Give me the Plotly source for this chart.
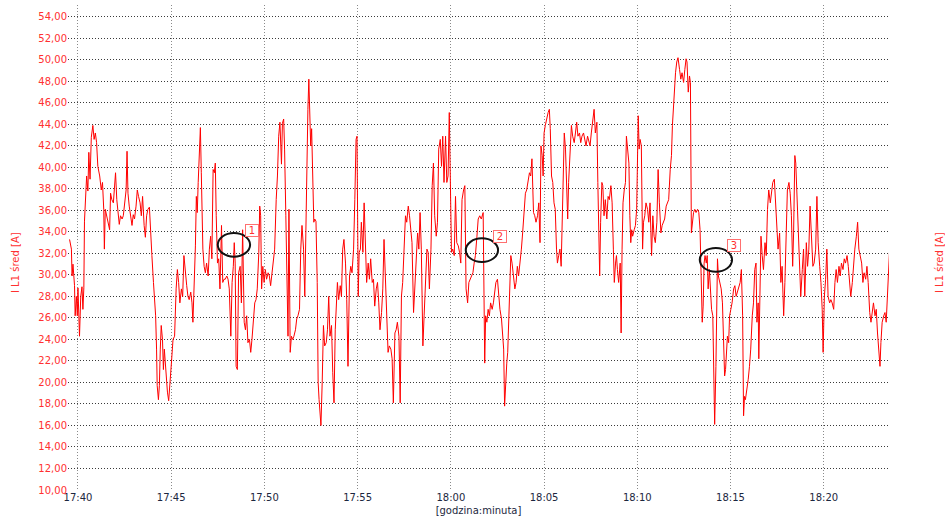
import pandas as pd
import plotly.graph_objects as go

# Start of the recording window
BASE = pd.Timestamp("2000-01-01 17:40:00")

# Sample times (seconds after 17:40:00)
t_offset_s = [
    -27, -21, -19, -16, -11, -9, -5, -2, 0, 3,
    5, 9, 13, 16, 19, 21, 25, 28, 32, 35,
    39, 43, 48, 52, 56, 60, 64, 70, 75, 79,
    83, 85, 88, 92, 97, 102, 105, 109, 114, 118,
    121, 125, 129, 133, 137, 142, 146, 150, 155, 158,
    161, 165, 170, 174, 178, 182, 187, 191, 195, 200,
    204, 208, 213, 217, 221, 225, 230, 234, 238, 243,
    247, 250, 253, 255, 259, 262, 265, 268, 272, 275,
    278, 281, 284, 288, 292, 296, 301, 306, 311, 316,
    320, 324, 328, 333, 337, 341, 346, 350, 354, 358,
    363, 367, 370, 374, 378, 381, 384, 387, 391, 394,
    397, 399, 402, 406, 410, 414, 419, 423, 427, 431,
    435, 439, 442, 445, 449, 453, 457, 462, 466, 470,
    474, 479, 483, 487, 492, 496, 500, 503, 506, 509,
    513, 517, 522, 526, 530, 535, 539, 543, 547, 552,
    556, 560, 565, 569, 573, 577, 582, 585, 588, 591,
    595, 599, 603, 607, 612, 616, 620, 625, 629, 633,
    638, 642, 646, 650, 655, 658, 662, 665, 669, 672,
    676, 679, 683, 687, 691, 695, 700, 704, 708, 713,
    717, 721, 726, 730, 733, 736, 740, 743, 746, 749,
    752, 756, 759, 762, 766, 770, 773, 776, 779, 782,
    786, 790, 794, 799, 803, 807, 811, 816, 820, 824,
    828, 832, 835, 839, 844, 848, 852, 856, 861, 865,
    869, 874, 878, 882, 887, 891, 895, 898, 902, 905,
    909, 912, 917, 921, 925, 929, 934, 938, 942, 947,
    951, 955, 960, 964, 968, 972, 977, 981, 985, 990,
    994, 998, 1002, 1007, 1011, 1015, 1020, 1024, 1028, 1033,
    1037, 1041, 1045, 1050, 1054, 1058, 1063, 1067, 1071, 1075,
    1080, 1084, 1088, 1093, 1097, 1101, 1105, 1110, 1114, 1118,
    1123, 1127, 1131, 1136, 1140, 1144, 1148, 1153, 1157, 1161,
    1166, 1170, 1174, 1178, 1183, 1187, 1191, 1195, 1198, 1202,
    1206, 1211, 1215, 1219, 1224, 1228, 1232, 1236, 1241, 1245,
    1249, 1254, 1258, 1262, 1266, 1271, 1275, 1279, 1284, 1288,
    1293, 1298, 1304, 1307, 1309, 1312, 1316, 1320, 1324, 1328,
    1333, 1337, 1341, 1345, 1350, 1354, 1358, 1363, 1367, 1370,
    1373, 1377, 1380, 1383, 1386, 1389, 1393, 1397, 1401, 1406,
    1410, 1414, 1418, 1423, 1427, 1431, 1436, 1440, 1444, 1448,
    1453, 1457, 1461, 1466, 1470, 1474, 1479, 1483, 1487, 1490,
    1494, 1497, 1500, 1504, 1509, 1513, 1517, 1520, 1524, 1528,
    1532, 1536, 1540, 1543, 1547, 1551, 1555, 1558, 1562, 1565,
    1569, 1573, 1576, 1579, 1584, 1588, 1592, 1597, 1601, 1605,
    1609, 1614, 1618, 1622, 1627, 1631, 1635, 1640, 1644, 1648,
    1652, 1657, 1661, 1665, 1670, 1673, 1676, 1679, 1682, 1686,
    1689, 1693, 1697, 1702, 1706, 1710, 1715, 1719, 1723, 1726,
    1730, 1733, 1736, 1740, 1745, 1748, 1751, 1754, 1758, 1762,
    1765, 1768, 1773, 1776, 1779, 1782, 1785, 1790, 1794, 1798,
    1803, 1806, 1809, 1813, 1817, 1820, 1824, 1828, 1833, 1837,
    1841, 1846, 1850, 1854, 1858, 1863, 1867, 1871, 1876, 1880,
    1884, 1888, 1893, 1897, 1901, 1906, 1910, 1913, 1916, 1920,
    1923, 1927, 1931, 1936, 1940, 1944, 1949, 1953, 1957, 1960,
    1964, 1968, 1971, 1974, 1978, 1981, 1985, 1989, 1994, 1998,
    2002, 2006, 2009, 2012, 2015, 2018, 2022, 2025, 2028, 2032,
    2036, 2039, 2043, 2046, 2049, 2053, 2056, 2058, 2061, 2066,
    2070, 2074, 2077, 2081, 2084, 2087, 2090, 2094, 2097, 2101,
    2105, 2110, 2114, 2118, 2122, 2127, 2131, 2135, 2139, 2142,
    2145, 2148, 2153, 2157, 2161, 2165, 2170, 2174, 2178, 2182,
    2185, 2189, 2191, 2194, 2198, 2202, 2206, 2211, 2215, 2219,
    2223, 2228, 2232, 2236, 2241, 2245, 2249, 2253, 2258, 2262,
    2266, 2271, 2275, 2279, 2283, 2288, 2292, 2296, 2300, 2303,
    2307, 2310, 2314, 2318, 2322, 2326, 2331, 2335, 2339, 2344,
    2348, 2352, 2356, 2361, 2365, 2369, 2374, 2378, 2382, 2387,
    2391, 2395, 2398, 2402, 2406, 2410, 2414, 2419, 2423, 2427,
    2432, 2436, 2440, 2444, 2449, 2453, 2457, 2462, 2466, 2470,
    2475, 2479, 2483, 2487, 2492, 2496, 2500, 2505, 2509, 2513,
    2517, 2522, 2526, 2530, 2535, 2539, 2543, 2548, 2552, 2556,
    2560, 2565, 2569, 2573, 2578, 2581, 2584, 2588, 2593, 2597,
    2601, 2605, 2610, 2614,
]

# Phase L1 average current [A]
i_l1_avg = [
    33.3, 32.4, 29.9, 31.0, 29.0, 26.2, 28.0, 26.2, 28.8, 26.8,
    24.3, 28.0, 28.9, 26.8, 28.8, 35.0, 37.3, 39.2, 37.8, 41.4,
    38.9, 42.8, 43.9, 42.6, 43.2, 42.3, 40.1, 39.2, 37.9, 38.6,
    36.1, 32.4, 36.1, 35.5, 34.6, 34.2, 37.6, 37.0, 36.7, 38.6,
    39.5, 37.0, 35.8, 34.7, 35.5, 35.2, 35.5, 36.7, 37.9, 41.5,
    37.6, 36.4, 35.5, 34.6, 35.6, 35.2, 36.4, 37.9, 37.3, 36.7,
    35.5, 37.3, 34.6, 33.5, 35.5, 36.1, 36.3, 33.6, 31.8, 29.3,
    27.1, 26.2, 23.1, 19.7, 18.4, 19.7, 23.1, 25.3, 24.0, 21.2,
    23.1, 21.9, 20.3, 19.1, 18.3, 20.3, 21.9, 24.0, 24.3, 28.7,
    30.5, 29.3, 27.4, 28.7, 28.0, 31.8, 29.9, 29.0, 28.0, 27.7,
    28.4, 27.4, 25.6, 29.0, 32.7, 37.3, 35.8, 38.6, 42.9, 43.7,
    39.5, 36.1, 32.4, 30.8, 30.2, 31.1, 29.9, 32.4, 33.6, 31.5,
    39.8, 39.5, 40.4, 35.5, 31.1, 31.5, 28.7, 34.6, 29.3, 29.6,
    29.6, 29.9, 29.6, 28.7, 24.3, 29.3, 30.8, 33.0, 31.1, 21.5,
    21.2, 30.2, 30.8, 27.4, 34.2, 25.6, 24.9, 26.2, 23.7, 24.0,
    22.8, 24.0, 26.2, 27.4, 27.7, 28.7, 32.1, 36.4, 35.5, 28.7,
    30.8, 29.3, 30.5, 29.6, 30.2, 29.9, 29.0, 30.5, 31.5, 32.4,
    37.0, 39.2, 42.9, 44.2, 40.3, 44.1, 44.5, 41.7, 35.5, 28.7,
    24.3, 36.1, 22.8, 24.3, 24.0, 24.3, 24.9, 25.9, 26.2, 26.8,
    32.4, 34.6, 32.4, 28.0, 34.2, 39.2, 45.4, 48.2, 44.8, 42.0,
    43.6, 37.0, 34.9, 35.2, 35.0, 29.3, 20.0, 18.4, 16.6, 16.0,
    20.0, 25.3, 23.4, 23.7, 24.9, 28.0, 24.3, 25.3, 20.9, 18.1,
    24.9, 28.0, 29.3, 27.7, 29.0, 28.0, 32.4, 33.3, 31.1, 27.7,
    21.5, 29.9, 30.8, 30.2, 32.4, 37.0, 42.6, 42.9, 28.0, 32.1,
    32.4, 34.9, 32.1, 36.7, 32.1, 29.3, 31.1, 29.6, 31.5, 29.3,
    29.6, 27.1, 28.7, 29.3, 27.4, 24.9, 26.5, 28.7, 33.3, 29.3,
    26.2, 22.8, 23.4, 23.1, 22.2, 18.1, 24.6, 24.9, 25.6, 24.3,
    18.1, 28.0, 29.3, 33.0, 35.5, 34.9, 36.4, 35.5, 34.2, 33.0,
    26.5, 29.3, 30.5, 33.9, 32.4, 35.8, 32.4, 23.4, 26.2, 29.9,
    32.4, 32.1, 28.7, 32.4, 38.3, 40.4, 35.5, 33.6, 34.9, 41.7,
    42.6, 40.1, 42.9, 38.6, 42.9, 38.6, 39.2, 45.1, 37.0, 32.1,
    32.4, 31.8, 37.3, 33.0, 32.7, 32.1, 31.1, 37.0, 37.9, 38.3,
    28.7, 27.4, 29.3, 29.6, 29.9, 30.2, 31.1, 31.8, 33.6, 35.2,
    35.5, 35.2, 35.8, 29.3, 21.8, 26.2, 25.6, 26.8, 26.2, 27.4,
    26.8, 27.4, 28.7, 29.3, 29.6, 28.0, 26.8, 25.9, 24.6, 23.1,
    17.8, 21.2, 21.8, 22.8, 26.2, 28.4, 31.8, 31.1, 30.2, 28.7,
    29.3, 30.8, 29.9, 31.8, 32.4, 33.9, 36.1, 37.6, 37.9, 38.6,
    39.5, 39.2, 40.8, 35.8, 35.5, 34.9, 35.5, 36.7, 33.0, 42.0,
    41.1, 39.2, 43.2, 43.9, 44.8, 45.1, 45.4, 43.6, 39.2, 38.6,
    36.7, 36.1, 32.4, 31.1, 31.8, 32.4, 30.8, 35.5, 38.6, 43.2,
    41.7, 36.7, 35.2, 38.6, 42.3, 43.9, 42.9, 42.3, 43.2, 44.2,
    42.9, 43.2, 42.3, 42.9, 43.2, 42.6, 42.0, 42.9, 42.3, 42.0,
    43.2, 44.5, 45.4, 43.2, 44.2, 38.6, 33.0, 29.9, 34.9, 38.6,
    38.3, 35.5, 37.0, 35.2, 37.3, 37.0, 38.3, 36.7, 32.4, 29.3,
    31.1, 31.8, 30.5, 29.3, 31.1, 24.6, 32.4, 36.7, 37.9, 38.6,
    42.9, 42.0, 40.4, 35.5, 33.0, 34.2, 33.6, 34.2, 34.6, 36.1,
    44.8, 41.7, 42.6, 42.0, 32.4, 34.9, 35.5, 36.7, 36.1, 34.9,
    36.7, 31.8, 35.5, 33.6, 33.0, 34.9, 39.8, 36.7, 33.9, 34.6,
    34.9, 35.2, 36.4, 36.7, 37.0, 39.8, 41.1, 43.9, 45.4, 47.9,
    48.8, 49.8, 50.2, 49.1, 48.2, 48.8, 47.9, 49.1, 50.1, 49.8,
    47.0, 48.5, 47.9, 33.9, 34.9, 35.8, 36.1, 35.8, 36.1, 35.8,
    34.2, 26.8, 25.6, 27.1, 31.1, 31.8, 31.1, 31.8, 28.7, 30.5,
    28.0, 26.8, 26.2, 20.0, 16.1, 21.5, 29.3, 31.5, 29.9, 29.3,
    28.7, 27.4, 24.6, 20.6, 21.2, 23.1, 24.3, 23.7, 26.2, 26.8,
    27.4, 28.7, 29.0, 28.0, 28.4, 28.7, 29.3, 30.5, 26.2, 16.9,
    18.7, 18.4, 19.4, 20.3, 21.5, 23.1, 26.2, 27.4, 30.5, 31.1,
    25.6, 27.4, 22.2, 27.4, 33.6, 31.8, 30.5, 33.0, 31.8, 36.1,
    37.9, 36.7, 37.9, 38.6, 38.9, 36.4, 33.6, 32.4, 33.9, 29.3,
    30.8, 26.2, 29.3, 33.0, 37.9, 38.6, 37.6, 35.5, 30.8, 33.9,
    41.1, 40.4, 37.3, 33.6, 29.9, 28.0, 30.5, 32.4, 28.0, 33.0,
    30.8, 32.4, 36.4, 33.6, 30.8, 31.1, 32.4, 37.3, 33.0, 30.8,
    29.3, 26.8, 22.8, 28.0, 29.6, 32.4, 28.0, 27.4, 27.7, 27.4,
    26.8, 29.3, 30.5, 29.3, 30.8, 29.9, 31.1, 30.5, 31.5, 31.1,
    31.8, 30.8, 29.3, 28.0, 29.3, 31.1, 32.4, 33.6, 34.9, 32.4,
    31.8, 31.1, 29.3, 30.2, 29.6, 30.8, 29.3, 26.5, 25.6, 26.8,
    27.4, 26.2, 26.8, 24.6, 23.1, 21.5, 23.7, 25.6, 26.2, 26.5,
    25.6, 28.0, 31.8, 33.6,
]

# Numbered event markers: label, time (s after 17:40) and current level
marker_labels = ["1", "2", "3"]
marker_offset_s = [502, 1300, 2053]
marker_level = [32.8, 32.3, 31.4]

# Visible window
view_start_s = -32
view_end_s = 2610

RED = "#ff0000"
TICK_RED = "#ff3030"
FONT = "DejaVu Sans"
Y_TITLE = "I L1 śred [A]"
GRID_DOTS = "1px,2px"


def at(seconds):
    return BASE + pd.to_timedelta(seconds, unit="s")


times = [at(s) for s in t_offset_s]

fig = go.Figure()
fig.add_trace(go.Scatter(
    x=times, y=i_l1_avg, mode="lines",
    line=dict(color=RED, width=1),
    hoverinfo="x+y", showlegend=False,
))

# Event ellipses with numbered tags
for lab, s, lev in zip(marker_labels, marker_offset_s, marker_level):
    fig.add_shape(
        type="circle", xref="x", yref="y",
        x0=at(s - 52), x1=at(s + 52), y0=lev - 1.1, y1=lev + 1.1,
        line=dict(color="#111111", width=2),
    )
    fig.add_annotation(
        x=at(s), y=lev, xref="x", yref="y", text=lab, showarrow=False,
        xshift=18.5, yshift=14,
        font=dict(family=FONT, size=10, color=TICK_RED),
        bgcolor="white", bordercolor="#ff7070", borderwidth=1, borderpad=0,
        width=12, height=11,
    )

# Axis titles on both sides, reading bottom to top
for xpos in (-0.0646, 1.0609):
    fig.add_annotation(
        xref="paper", yref="paper", x=xpos, y=0.47, text=Y_TITLE,
        textangle=-90, showarrow=False, xanchor="center", yanchor="middle",
        font=dict(family=FONT, size=10, color=TICK_RED),
    )

y_common = dict(
    range=[10, 55.1], tick0=10, dtick=2, tickformat=".2f",
    tickfont=dict(family=FONT, size=10, color=TICK_RED),
    zeroline=False, showline=False, ticks="", fixedrange=True,
)

fig.update_layout(
    width=945, height=522,
    margin=dict(l=68, r=56, t=5, b=32),
    paper_bgcolor="white", plot_bgcolor="white",
    separators=",.",
    font=dict(family=FONT, size=10),
    xaxis=dict(
        type="date",
        range=[at(view_start_s), at(view_end_s)],
        tick0=BASE, dtick=300000, tickformat="%H:%M",
        tickfont=dict(family=FONT, size=10, color="#1c2740"),
        showgrid=True, gridcolor="#8a8a8a", griddash=GRID_DOTS, gridwidth=1,
        zeroline=False, showline=False, ticks="",
        title=dict(text="[godzina:minuta]", font=dict(family=FONT, size=10, color="#1c2740"), standoff=4),
    ),
    yaxis=dict(
        **y_common,
        showgrid=True, gridcolor="#3a3a3a", griddash=GRID_DOTS, gridwidth=1,
    ),
    yaxis2=dict(
        **y_common,
        overlaying="y", side="right", showgrid=False,
    ),
)

fig.write_html("out.html")
